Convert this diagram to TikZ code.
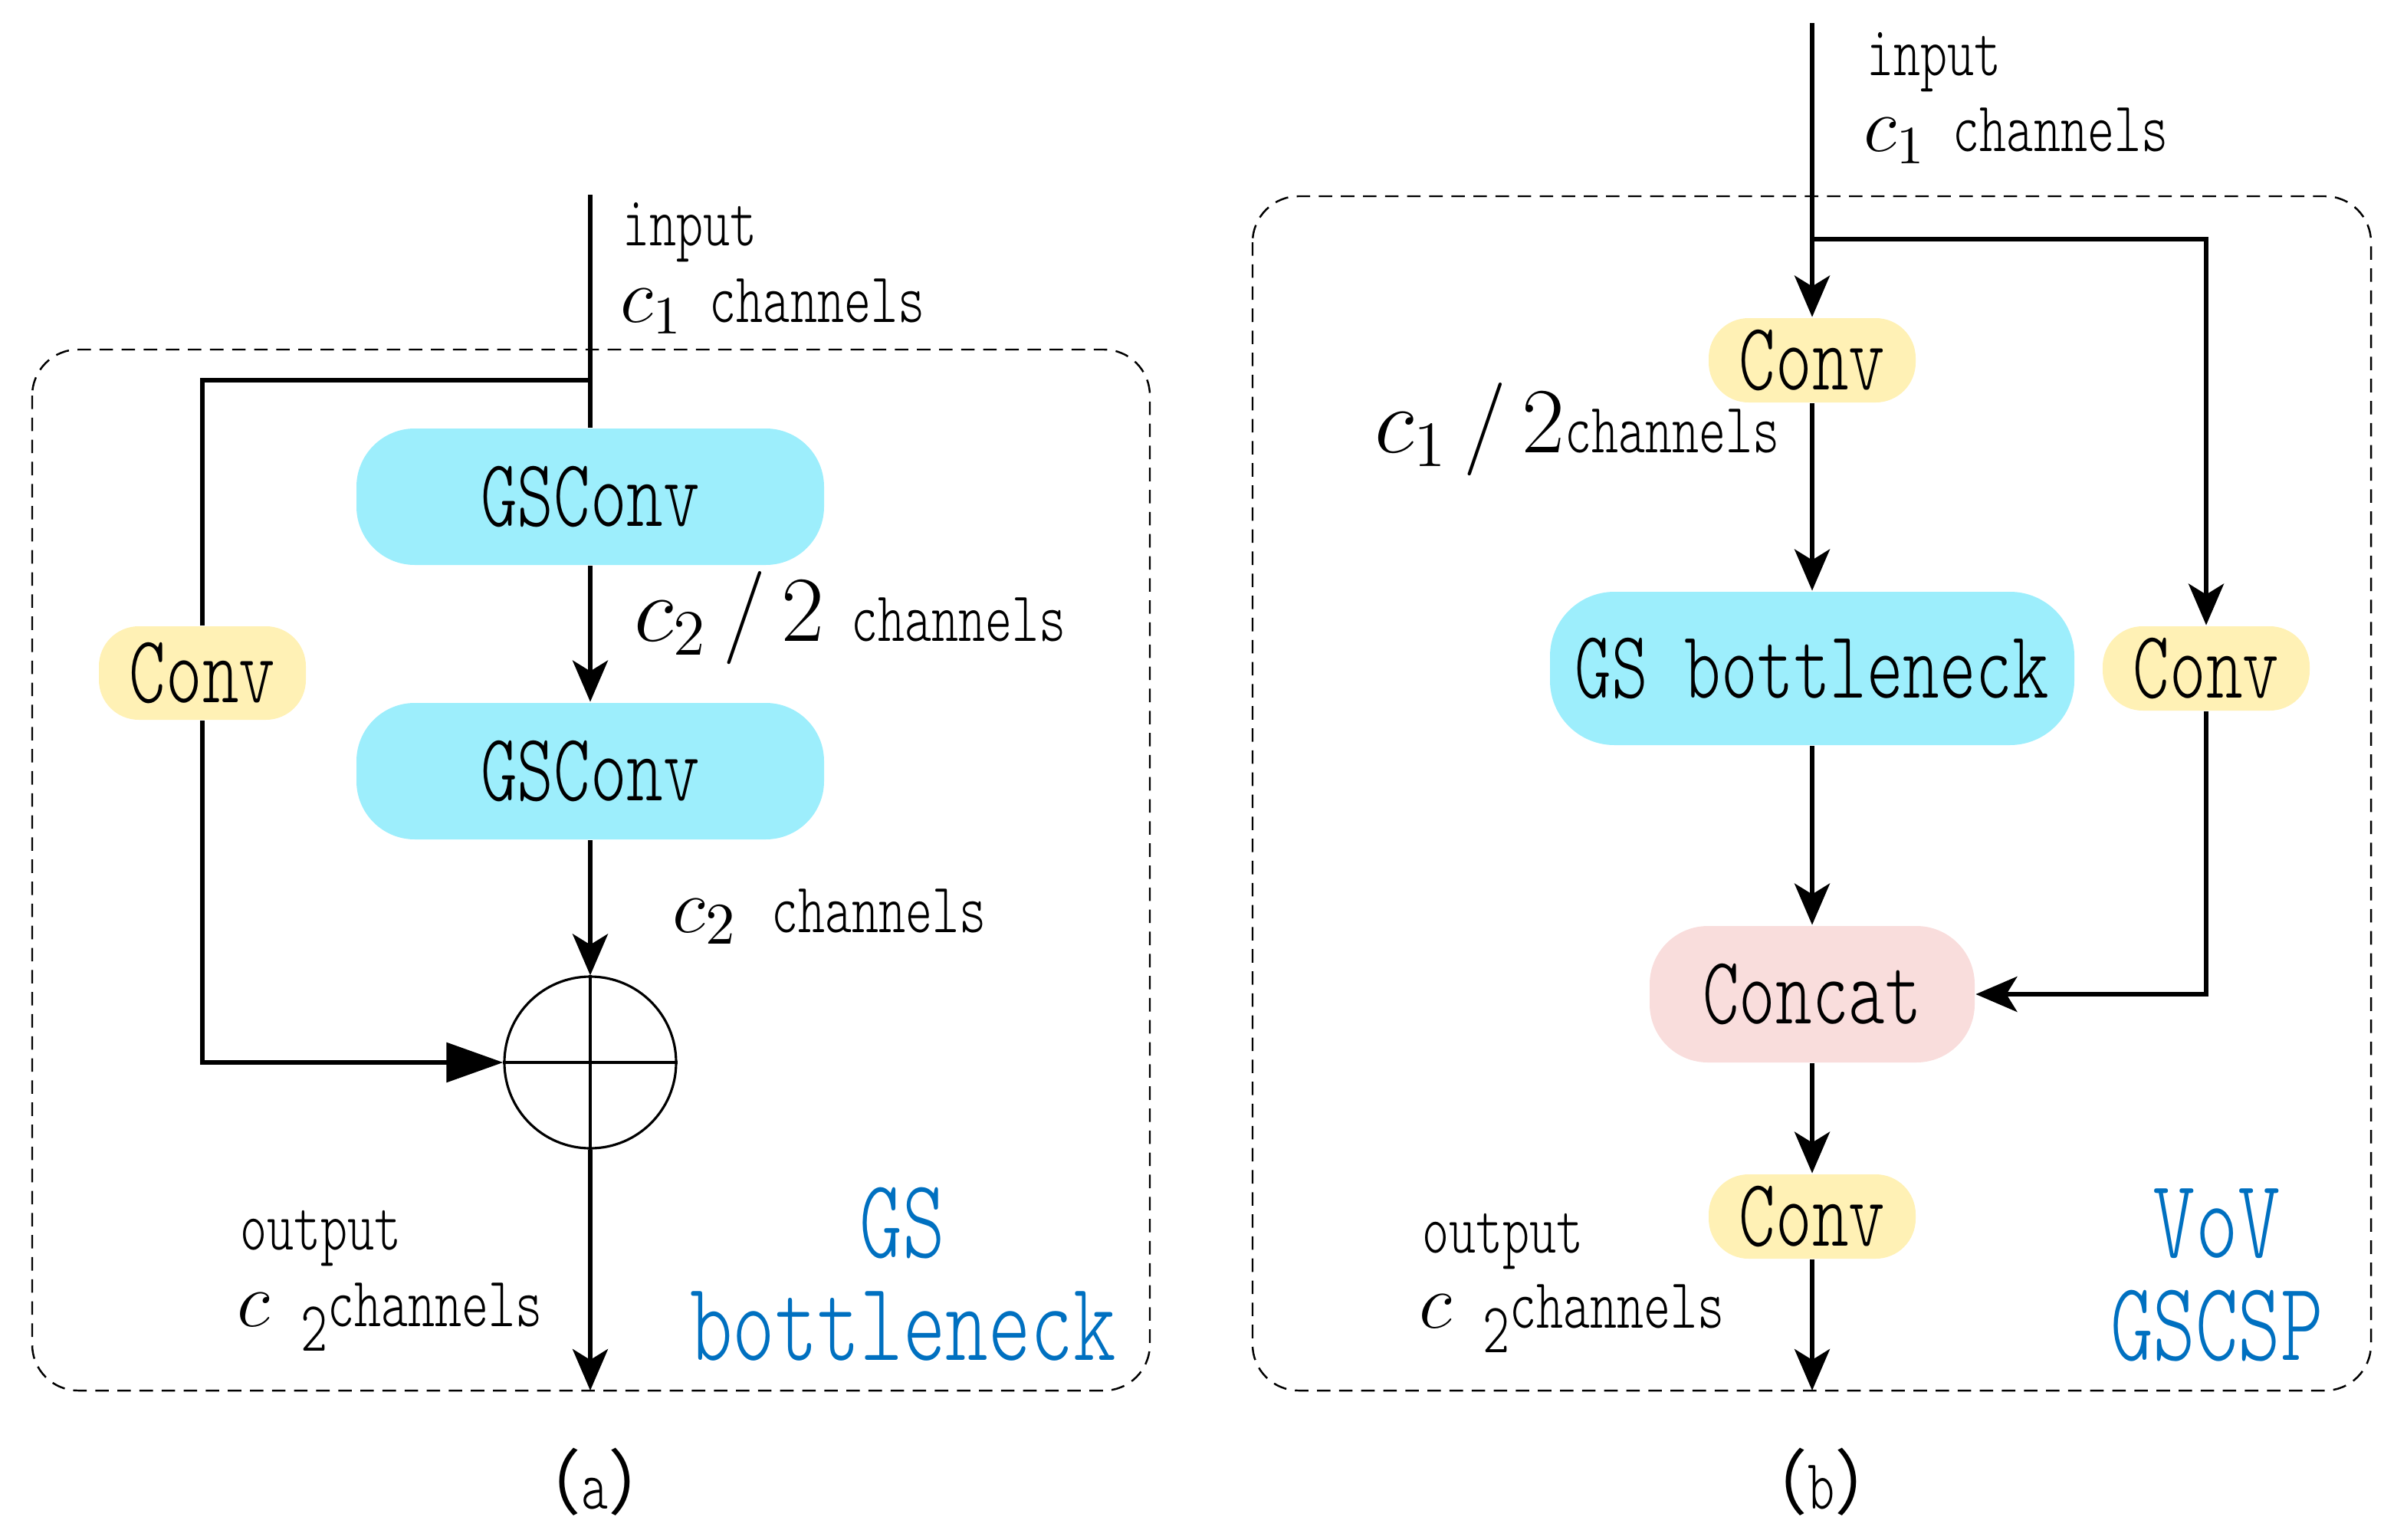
\documentclass[tikz,border=0pt]{standalone}
\usepackage{fontspec}
\setmainfont{Latin Modern Mono Light}[FakeStretch=0.72]
\newfontfamily\cjk{Noto Sans CJK SC}
\usetikzlibrary{arrows.meta}
\definecolor{gscyan}{HTML}{9DEEFC}
\definecolor{convyellow}{HTML}{FFF1B5}
\definecolor{catpink}{HTML}{F9DDDC}
\definecolor{tagblue}{HTML}{0070C0}

\begin{document}
\begin{tikzpicture}[
    wire/.style={line width=0.85pt},
    flow/.style={line width=0.85pt,-{Stealth[length=0.27cm,width=0.23cm,inset=0.07cm]}},
    frame/.style={dash pattern=on 2.5pt off 1.6pt,line width=0.35pt,rounded corners=0.3cm},
    gsblock/.style={fill=gscyan,rounded corners=0.38cm,inner sep=0pt,minimum width=3.05cm,minimum height=0.89cm,font=\fontsize{17.9}{19}\selectfont},
    convblock/.style={fill=convyellow,rounded corners=0.26cm,inner sep=0pt,minimum width=1.35cm,minimum height=0.55cm,font=\fontsize{17.9}{19}\selectfont},
    catblock/.style={fill=catpink,rounded corners=0.38cm,inner sep=0pt,minimum width=2.12cm,minimum height=0.89cm,font=\fontsize{17.9}{19}\selectfont},
    lbl/.style={anchor=base west,inner sep=0pt,font=\fontsize{13.2}{14}\selectfont},
    tag/.style={anchor=base,inner sep=0pt,text=tagblue,font=\fontsize{20.9}{22}\selectfont},
    subcap/.style={anchor=base,inner sep=0pt,font=\fontsize{13.2}{14}\selectfont}
]
    \useasboundingbox (0,0) rectangle (15.70,-10.045);

    % GS bottleneck
    \begin{scope}
        \draw[frame] (0.21,-2.28) rectangle (7.50,-9.07);
        \coordinate (topA) at (3.85,-1.27);
        \coordinate (splitA) at (3.85,-2.48);
        \coordinate (endA) at (3.85,-9.07);
        \node[gsblock] (gs1) at (3.85,-3.24) {GSConv};
        \node[gsblock] (gs2) at (3.85,-5.03) {GSConv};
        \node[convblock,minimum height=0.61cm] (convA) at (1.32,-4.39) {Conv};
        \node[circle,draw,line width=0.45pt,minimum size=1.12cm,inner sep=0pt] (add) at (3.85,-6.93) {};
        \draw[line width=0.45pt] (add.north) -- (add.south) (add.west) -- (add.east);

        \draw[wire] (topA) -- (gs1.north);
        \draw[wire] (splitA) -| (convA.north);
        \draw[wire,-{Triangle[length=0.37cm,width=0.255cm]}] (convA.south) |- (add.west);
        \draw[flow] (gs1) -- (gs2);
        \draw[flow] (gs2) -- (add);
        \draw[flow] (add) -- (endA);

        \node[lbl] (inA) at (4.055,-1.60) {input};
        \node[lbl] (chA) at (4.04,-2.10) {{\fontsize{14}{14}\selectfont$c_1$} channels};
        \node[lbl] (halfA) at (4.13,-4.18) {{\fontsize{17.5}{18}\selectfont$c_2\,/\,2$} channels};
        \node[lbl] (fullA) at (4.38,-6.08) {{\fontsize{15}{16}\selectfont$c_2$}\hspace{0.22cm}channels};
        \node[lbl] (outA) at (1.56,-8.15) {output};
        \node[lbl] (outchA) at (1.54,-8.65) {{\fontsize{15}{16}\selectfont$c$}\hspace{0.2cm}\raisebox{-0.16cm}{2}channels};
        \node[tag] (tagA1) at (5.885,-8.20) {GS};
        \node[tag] (tagA2) at (5.89,-8.87) {bottleneck};
        \node[subcap] (capA) at (3.88,-9.84) {{\cjk （}a{\cjk ）}};
    \end{scope}

    % VoV-GSCSP
    \begin{scope}
        \draw[frame] (8.17,-1.28) rectangle (15.465,-9.07);
        \coordinate (topB) at (11.82,-0.15);
        \coordinate (splitB) at (11.82,-1.56);
        \coordinate (endB) at (11.82,-9.07);
        \node[convblock] (conv1) at (11.82,-2.35) {Conv};
        \node[gsblock,minimum width=3.42cm,minimum height=1.0cm,rounded corners=0.42cm] (gsb) at (11.82,-4.36) {GS bottleneck};
        \node[convblock] (conv2) at (14.39,-4.36) {Conv};
        \node[catblock] (concat) at (11.82,-6.485) {Concat};
        \node[convblock] (conv3) at (11.82,-7.935) {Conv};

        \draw[flow] (topB) -- (conv1);
        \draw[flow] (splitB) -| (conv2.north);
        \draw[flow] (conv1) -- (gsb);
        \draw[flow] (gsb) -- (concat);
        \draw[flow] (conv2.south) |- (concat.east);
        \draw[flow] (concat) -- (conv3);
        \draw[flow] (conv3) -- (endB);

        \node[lbl] (inB) at (12.17,-0.49) {input};
        \node[lbl] (chB) at (12.15,-0.99) {{\fontsize{14}{14}\selectfont$c_1$} channels};
        \node[lbl] (halfB) at (8.96,-2.95) {{\fontsize{17.5}{18}\selectfont$c_1\,/\,2$}channels};
        \node[lbl] (outB) at (9.27,-8.17) {output};
        \node[lbl] (outchB) at (9.25,-8.66) {{\fontsize{15}{16}\selectfont$c$}\hspace{0.2cm}\raisebox{-0.16cm}{2}channels};
        \node[tag] (tagB1) at (14.46,-8.20) {VoV};
        \node[tag] (tagB2) at (14.46,-8.87) {GSCSP};
        \node[subcap] (capB) at (11.88,-9.84) {{\cjk （}b{\cjk ）}};
    \end{scope}
\end{tikzpicture}
\end{document}
